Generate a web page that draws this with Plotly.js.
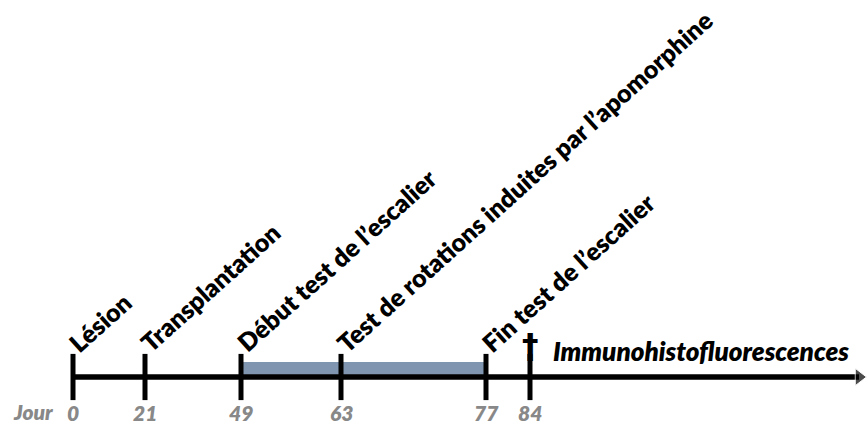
<!DOCTYPE html>
<html><head><meta charset="utf-8">
<script src="https://cdn.plot.ly/plotly-3.0.1.min.js"></script>
<style>html,body{margin:0;padding:0;background:#fff}#chart{width:867px;height:426px}</style>
</head><body><div id="chart"></div>
<script>
// Timeline data
const days = [0, 21, 49, 63, 77, 84];
const dayLabels = ["0", "21", "49", "63", "77", "84"];
// schematic horizontal position of each day on the drawn timeline (not to scale in the original)
const dayPos = [73, 145, 241, 341, 486, 530];
const eventLabels = ["Lésion", "Transplantation", "Début test de l’escalier", "Test de rotations induites par l’apomorphine", "Fin test de l’escalier"];
const eventDayIndex = [0, 1, 2, 3, 4];
const shadedPeriod = [49, 77]; // staircase test period (days)
const sacrificeDay = 84;
const afterLabel = "Immunohistofluorescences";
const axisLabel = "Jour";

const posOf = d => dayPos[days.indexOf(d)];
const LINE_Y = 377;
const font = "Lato, 'Open Sans', sans-serif";

const traces = [
  { // main timeline line with arrow
    x: [dayPos[0], 859], y: [LINE_Y, LINE_Y], mode: 'lines+markers',
    line: {color: '#000', width: 5.5},
    marker: {symbol: 'triangle-right', size: [0, 15], color: '#000'},
    hoverinfo: 'skip', showlegend: false
  },
  { // tick marks
    x: dayPos, y: dayPos.map(() => LINE_Y), mode: 'markers',
    marker: {symbol: 'line-ns-open', size: 33, color: '#000', line: {color: '#000', width: 5}},
    hoverinfo: 'skip', showlegend: false
  }
];

const shapes = [{
  type: 'rect', xref: 'x', yref: 'y',
  x0: posOf(shadedPeriod[0]) + 2, x1: posOf(shadedPeriod[1]) - 2, y0: 362, y1: LINE_Y - 1,
  fillcolor: '#8096b0', line: {width: 0}, layer: 'below'
}];

const annotations = [];
eventLabels.forEach((t, i) => {
  annotations.push({
    x: dayPos[eventDayIndex[i]], y: 360, xref: 'x', yref: 'y', text: t,
    showarrow: false, textangle: -42, xanchor: 'left', yanchor: 'bottom', xshift: -13,
    font: {family: font, size: 25, weight: 800, color: '#000'}
  });
});
dayLabels.forEach((t, i) => {
  annotations.push({
    x: dayPos[i], y: 412, xref: 'x', yref: 'y', text: '<i>' + t + '</i>',
    showarrow: false, xanchor: 'center', yanchor: 'middle',
    font: {family: font, size: 21, weight: 800, color: '#888888'}
  });
});
annotations.push({
  x: 33, y: 411, xref: 'x', yref: 'y', text: '<i>' + axisLabel + '</i>',
  showarrow: false, xanchor: 'center', yanchor: 'middle',
  font: {family: font, size: 21, weight: 800, color: '#888888'}
});
annotations.push({
  x: posOf(sacrificeDay), y: 346, xref: 'x', yref: 'y', text: '<b>†</b>',
  showarrow: false, xanchor: 'center', yanchor: 'middle',
  font: {family: "'DejaVu Sans', sans-serif", size: 33, color: '#000'}
});
annotations.push({
  x: 551, y: 351, xref: 'x', yref: 'y', text: '<i>' + afterLabel + '</i>',
  showarrow: false, xanchor: 'left', yanchor: 'middle',
  font: {family: font, size: 26, weight: 800, color: '#000'}
});

const layout = {
  width: 867, height: 426,
  margin: {l: 0, r: 0, t: 0, b: 0},
  paper_bgcolor: '#fff', plot_bgcolor: '#fff',
  xaxis: {range: [0, 867], visible: false, fixedrange: true},
  yaxis: {range: [426, 0], visible: false, fixedrange: true},
  shapes, annotations, showlegend: false
};
Plotly.newPlot('chart', traces, layout, {displayModeBar: false, staticPlot: true});
</script></body></html>
